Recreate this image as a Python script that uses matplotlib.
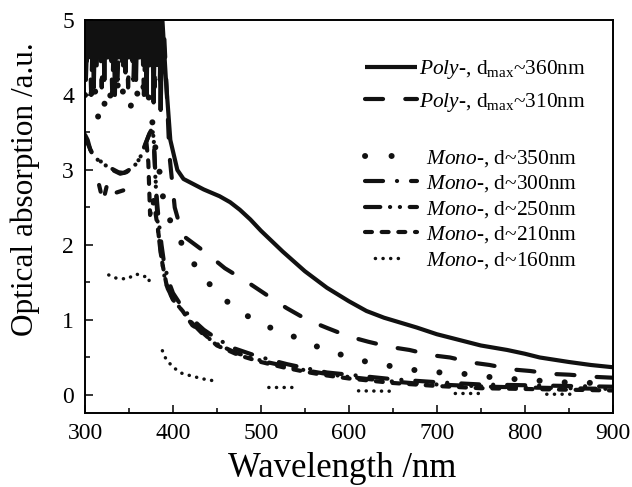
import numpy as np
import matplotlib
matplotlib.use("Agg")
import matplotlib.pyplot as plt
from matplotlib.lines import Line2D

plt.rcParams['font.family'] = 'Liberation Serif'
plt.rcParams['mathtext.fontset'] = 'custom'
plt.rcParams['mathtext.rm'] = 'Liberation Serif'
plt.rcParams['mathtext.it'] = 'Liberation Serif:italic'
plt.rcParams['lines.scale_dashes'] = False

nan = np.nan

# Poly-, dmax~360nm (solid) - saturated/noisy below ~387 nm
poly360_x = [300, 302, 304, 306, 308, 310, 312, 314, 316, 318, 320, 322, 324, 326, 328,
             330, 332, 334, 336, 338, 340, 342, 344, 346, 348, 350, 352, 354, 356, 358,
             360, 362, 364, 366, 368, 370, 372, 374, 376, 378, 380, 382, 384, 386,
             388, 392, 397, 405, 412, 435, 453, 465, 476, 488, 500, 525, 550, 575, 600, 620,
             640, 677, 700, 750, 780, 800, 817, 850, 875, 900]
poly360_y = [5.3, 4.45, 5.3, 4.6, 5.3, 4.1, 5.3, 4.5, 5.3, 4.45, 5.3, 4.2, 5.3, 4.5, 5.3,
             4.45, 5.3, 4.0, 5.3, 4.5, 5.3, 4.45, 5.3, 4.3, 5.3, 4.5, 5.3, 4.45, 5.3, 4.2,
             5.3, 4.5, 5.3, 4.4, 5.3, 4.0, 5.3, 4.45, 5.3, 3.9, 5.3, 4.4, 5.3, 3.8,
             5.0, 4.2, 3.4, 3.0, 2.88, 2.74, 2.65, 2.57, 2.47, 2.34, 2.19, 1.91, 1.65, 1.43, 1.25, 1.12,
             1.03, 0.90, 0.81, 0.66, 0.60, 0.55, 0.50, 0.44, 0.40, 0.37]

# Poly-, dmax~310nm (long dash)
poly310_x = [301, 304, 307, 310, 313, 316, 319, 322, 325, 328, 331, 334, 337, 340, 343,
             346, 349, 352, 355, 358, 361, 364, 367, 370, 373, 376, 379, 382, 385, 388,
             392, 396, 402, 408, 413, 436, 459, 484, 507, 529, 553, 576, 600, 622, 647,
             669, 694, 715, 741, 760, 786, 806, 832, 851, 882, 900]
poly310_y = [4.2, 5.3, 4.0, 5.3, 4.3, 5.3, 4.1, 5.3, 4.4, 5.3, 4.0, 5.3, 4.2, 5.3, 4.3,
             5.3, 4.1, 5.3, 4.2, 5.3, 4.4, 5.3, 4.0, 5.3, 4.3, 5.3, 4.1, 5.3, 4.2, 5.3,
             4.3, 3.2, 2.5, 2.25, 2.11, 1.91, 1.69, 1.51, 1.33, 1.16, 1.00, 0.89, 0.78, 0.71, 0.64,
             0.60, 0.53, 0.50, 0.43, 0.40, 0.34, 0.32, 0.28, 0.27, 0.24, 0.23]

# Mono-, d~350nm (big dots)
mono350_x = [300, 305, 310, 315, 319, 325, 332, 340, 346, 351, 357, 363, 368, 374, 379,
             383, 386, 389, 393, 398, 405, 412, 420, 430, 453, 482, 508, 537, 565, 593,
             621, 650, 676, 704, 732, 760, 790, 817, 843, 870, 900]
mono350_y = [4.0, 3.85, 4.2, 3.7, 3.64, 4.1, 3.9, 4.25, 3.85, 3.8, 4.1, 3.9, 4.2, 3.89, 3.4,
             3.0, 2.96, 2.6, 2.45, 2.29, 2.12, 1.98, 1.82, 1.64, 1.32, 1.07, 0.91, 0.78, 0.64, 0.53,
             0.44, 0.38, 0.33, 0.30, 0.28, 0.24, 0.21, 0.19, 0.17, 0.16, 0.17]

# Mono-, d~300nm (dash-dot)
mono300_x = [300, 303, 306, 310, 315, 322, 330, 338, 344, 350, 355, 359, 364, 369, 374,
             377, 379, 381, 384, 387, 390, 395, 400, 410, 420, 435, 450, 470, 490, 510,
             530, 550, 575, 600, 650, 700, 750, 800, 850, 900]
mono300_y = [3.47, 3.40, 3.27, 3.20, 3.13, 3.09, 3.02, 2.97, 2.96, 3.00, 3.05, 3.09, 3.20, 3.36, 3.50,
             3.58, 3.2, 2.7, 2.3, 2.0, 1.75, 1.52, 1.36, 1.18, 1.03, 0.87, 0.75, 0.62, 0.54, 0.47,
             0.41, 0.36, 0.30, 0.27, 0.21, 0.17, 0.14, 0.13, 0.12, 0.11]

# Mono-, d~250nm (dash-dot-dot)
mono250_x = [300, 304, 308, 313, 318, 325, 333, 340, 347, 353, 358, 362, 367, 372, 376,
             378, 380, 383, 386, 390, 394, 400, 410, 420, 435, 450, 470, 490, 510, 530,
             550, 575, 600, 640, 680, 720, 760, 800, 850, 900]
mono250_y = [3.42, 3.33, 3.22, 3.15, 3.10, 3.05, 2.99, 2.95, 2.97, 3.02, 3.08, 3.15, 3.28, 3.45, 3.56,
             3.45, 2.9, 2.2, 1.9, 1.6, 1.42, 1.28, 1.13, 0.98, 0.80, 0.68, 0.57, 0.49, 0.43, 0.38,
             0.33, 0.28, 0.24, 0.19, 0.15, 0.13, 0.11, 0.10, 0.09, 0.08]

# Mono-, d~210nm (short dash)
mono210_x = [316, 319, 322, 325, nan, 336, 344, 352, nan, 370, 372, 374, 378, 383,
             388, 393, 400, 411, 422, 431, 450, 475, 500, 525, 550, 575, 600, 650,
             700, 750, 800, 850, 900]
mono210_y = [2.80, 2.65, 2.65, 2.80, nan, 2.70, 2.73, 2.68, nan, 3.35, 3.1, 2.4, 2.6, 2.2,
             1.75, 1.45, 1.27, 1.12, 0.93, 0.86, 0.66, 0.53, 0.44, 0.37, 0.31, 0.26, 0.22, 0.16,
             0.12, 0.09, 0.08, 0.07, 0.06]

# Mono-, d~160nm (small dots, broken)
mono160_x = [327, 335, 342, 349, 355, 359, 366, 372, 374, nan,
             388, 392, 400, 410, 422, 436, 446, nan,
             509, 539, nan, 611, 650, nan, 721, 753, nan, 825, 855]
mono160_y = [1.60, 1.56, 1.55, 1.55, 1.60, 1.61, 1.58, 1.58, 1.46, nan,
             0.59, 0.48, 0.37, 0.29, 0.25, 0.21, 0.19, nan,
             0.10, 0.10, nan, 0.055, 0.05, nan, 0.02, 0.02, nan, 0.01, 0.01]

labels = [r'$\mathit{Poly}$-, d$_{\rm max}$~360nm',
          r'$\mathit{Poly}$-, d$_{\rm max}$~310nm',
          r'$\mathit{Mono}$-, d~350nm',
          r'$\mathit{Mono}$-, d~300nm',
          r'$\mathit{Mono}$-, d~250nm',
          r'$\mathit{Mono}$-, d~210nm',
          r'$\mathit{Mono}$-, d~160nm']

styles = [
    dict(lw=3.0, ls='-'),
    dict(lw=3.0, ls=(0, (13, 16))),
    dict(lw=4.3, ls=(0, (0.1, 18))),
    dict(lw=3.0, ls=(0, (13, 10, 0.1, 10))),
    dict(lw=3.0, ls=(0, (11, 7, 0.1, 7, 0.1, 7))),
    dict(lw=3.0, ls=(0, (5, 7))),
    dict(lw=2.5, ls=(0, (0.1, 5.4))),
]
# legend samples where the short handle shows the pattern differently
legend_ls = {2: (0, (0.1, 19)),
             6: (39.5, (0.1, 5.4, 0.1, 5.4, 0.1, 5.4, 0.1, 30))}

series = [(poly360_x, poly360_y), (poly310_x, poly310_y), (mono350_x, mono350_y),
          (mono300_x, mono300_y), (mono250_x, mono250_y), (mono210_x, mono210_y),
          (mono160_x, mono160_y)]

fig = plt.figure(figsize=(6.32, 4.87), dpi=100)
ax = fig.add_axes([0.1345, 0.152, 0.835, 0.807])

handles = []
for i, ((xs, ys), st) in enumerate(zip(series, styles)):
    ax.plot(xs, ys, color='#111111', lw=st['lw'], ls=st['ls'],
            dash_capstyle='round', solid_capstyle='round', solid_joinstyle='round')
    handles.append(Line2D([], [], color='#111111', lw=st['lw'],
                          ls=legend_ls.get(i, st['ls']),
                          dash_capstyle='round', solid_capstyle='butt'))

ax.set_xlim(300, 900)
ax.set_ylim(-0.24, 5)
ax.set_xticks([300, 400, 500, 600, 700, 800, 900])
ax.set_xticks([350, 450, 550, 650, 750, 850], minor=True)
ax.set_yticks([0, 1, 2, 3, 4, 5])
ax.set_yticks([0.5, 1.5, 2.5, 3.5, 4.5], minor=True)
ax.tick_params(which='both', direction='in', top=False, right=False, width=1.1,
               labelsize=17)
ax.tick_params(which='major', length=6)
ax.tick_params(which='minor', length=3.5)
ax.tick_params(axis='x', pad=7)
ax.tick_params(axis='y', pad=8)
for sp in ax.spines.values():
    sp.set_linewidth(1.4)

ax.set_xlabel('Wavelength /nm', fontsize=25)
ax.xaxis.set_label_coords(0.487, -0.1)
ax.set_ylabel('Optical absorption /a.u.', fontsize=22.5)
ax.yaxis.set_label_coords(-0.085, 0.57)

leg1 = ax.legend(handles[:2], labels[:2], loc='upper left', bbox_to_anchor=(0.53, 0.903),
                 frameon=False, fontsize=15.4, handlelength=2.45, handletextpad=0.1,
                 borderpad=0, borderaxespad=0, labelspacing=0.45)
ax.add_artist(leg1)
ax.legend(handles[2:], labels[2:], loc='upper left', bbox_to_anchor=(0.53, 0.675),
          frameon=False, fontsize=15.4, handlelength=2.45, handletextpad=0.4,
          borderpad=0, borderaxespad=0, labelspacing=0.22)

fig.savefig('out.png', dpi=100)
